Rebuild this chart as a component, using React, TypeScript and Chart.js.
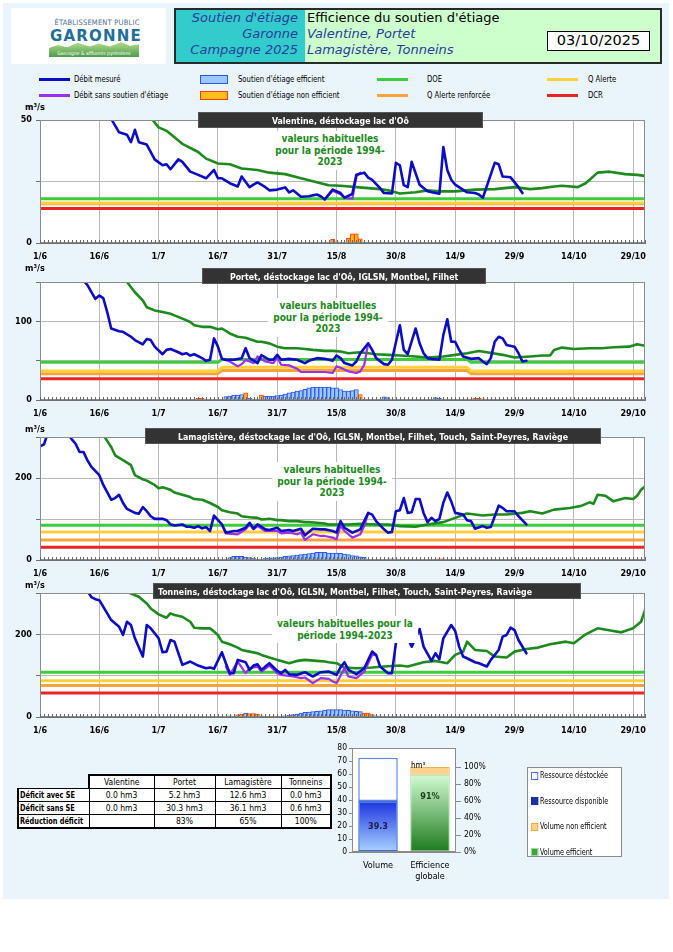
import React, { useEffect, useRef } from "react";
import { Chart, registerables } from "chart.js";

Chart.register(...registerables);

type Pt = [number, number | null];

const NARROW = '"Liberation Sans Narrow","DejaVu Sans Condensed","Arial Narrow",sans-serif';
const WIDE = '"DejaVu Sans",Verdana,sans-serif';

Chart.defaults.font.family = NARROW;
Chart.defaults.color = "#000";

// ---------- x axis (days since 1 June) ----------
const X_MIN = 0;
const X_MAX = 153;
const xTickDays = [0, 15, 30, 45, 60, 75, 90, 105, 120, 135, 150];
const xTickLabels = ["1/6", "16/6", "1/7", "16/7", "31/7", "15/8", "30/8", "14/9", "29/9", "14/10", "29/10"];

// ---------- Valentine ----------
const valentineMeasured: Pt[] = [[0,78],[8,65],[14,56],[18,50.5],[20,45],[22,44],[23,41],[24,46],[25,41],[27,40],[29,34],[31,31.6],[32,32],[33,30],[35,34],[36,33],[38,29],[40,27.7],[42,26.3],[44,29.7],[45,26.3],[46,26.3],[48,24.3],[50,23],[51,27],[53,22.7],[54,23.7],[55,24.6],[57,22.7],[58,21.4],[60,21.7],[62,22.6],[63,20.6],[64,21.4],[66,18.8],[68,19],[70,19.7],[71,19],[72,17.7],[74,21.7],[76,20.3],[77,18.4],[79,20],[80,27.7],[82,28.6],[83,26.6],[84,25.7],[86,22.3],[87,20.3],[89,20.1],[90,32.6],[91,31.6],[92,23.5],[93,22.7],[94,33],[95,28.3],[96,23.7],[98,21],[100,20.3],[101,20],[102,39],[103,29.7],[104,25.7],[105,23.7],[108,20.6],[110,20.3],[111,19.7],[112,18.4],[115,32.6],[116,32],[117,27],[119,26.7],[121,22.7],[122,20.3]];
const valentineNoSupport: Pt[] = [[72,17.7],[74,21.2],[76,19.8],[77,18.4],[79,18],[80,27],[81,28.6]];
const valentineUsual: Pt[] = [[0,90],[12,70],[22,57],[28,51],[30,47],[32,45.6],[34,43],[36,40.3],[40,37],[42,34.3],[45,32.3],[48,32],[51,30.3],[55,29.7],[58,28.6],[62,28],[66,26.3],[71,24.3],[73,23.5],[76,23.3],[80,22.7],[83,22.3],[86,21.9],[88,21.4],[91,20.1],[95,20.6],[98,21.4],[101,21],[105,21],[110,21.7],[115,21.9],[120,22.7],[124,21.9],[127,22.3],[130,23],[132,23.3],[136,22.7],[138,24.3],[141,28.6],[144,29],[148,28],[151,27.7],[153,27.3]];
const valentineDOE: Pt[] = [[0,18],[153,18]];
const valentineQA: Pt[] = [[0,16.3],[153,16.3]];
const valentineQAR: Pt[] = [[0,16],[153,16]];
const valentineDCR: Pt[] = [[0,14],[153,14]];
const valentineEff: Pt[] = [];
const valentineNonEff: Pt[] = [[74,1.5],[75,0.5],[78,2],[79,3.7],[80,3.7],[81,1.7]];

// ---------- Portet ----------
const portetMeasured: Pt[] = [[0,230],[6,190],[11,152],[12,146],[14,128.6],[15,132.7],[16,129.4],[17,111.8],[18,90.9],[20,87.5],[21,86.7],[23,80.4],[24,76.2],[26,70.8],[27,77.5],[28,76.2],[29,67.8],[31,58.2],[32,63.7],[33,64.9],[35,60.7],[36,58.2],[37,59.5],[38,56.5],[39,58.2],[41,53.2],[42,49.8],[43,51.1],[44,78.3],[45,67.8],[46,52.3],[47,51.1],[49,51.1],[51,53.2],[52,65.7],[53,53.2],[55,46.9],[56,57],[58,51.1],[59,51.1],[60,57.4],[61,51.1],[63,52.3],[65,51.1],[67,46.9],[68,49.8],[70,53.2],[72,52.3],[74,49.8],[75,56.5],[76,53.2],[77,46.9],[79,44],[80,49],[81,59.5],[83,72],[84,63.7],[85,53.2],[87,45.6],[88,44.8],[89,51.1],[91,95],[92,63.7],[93,58.2],[95,90.9],[96,72],[97,59.5],[98,53.2],[99,52.3],[101,51.1],[102,82.5],[103,102.6],[104,74.1],[105,74.1],[106,63.7],[107,55.3],[109,52.3],[111,53.2],[112,49],[113,45.6],[114,53.2],[115,74.1],[116,80.4],[117,78.3],[118,69.9],[120,67.8],[121,59.5],[122,49],[123,49.8]];
const portetNoSupport: Pt[] = [[46,52.3],[48,49],[50,42.7],[51,45.6],[52,51],[54,46.9],[55,55.3],[57,49],[59,46.9],[60,54],[61,44.8],[63,44],[65,39.8],[66,35.6],[69,35.6],[72,35.6],[74,34.3],[75,42.7],[76,41],[78,36.4],[80,34.3],[81,36.4],[82,44.8],[83,72]];
const portetUsual: Pt[] = [[0,260],[10,200],[18,165],[22,150],[24,137],[26,126.5],[27,118],[29,113.9],[31,111.8],[33,109.7],[34,107.6],[36,103.4],[38,99.2],[39,95],[41,93],[43,93],[45,90],[46,90.9],[48,84.6],[50,80.4],[52,79.1],[55,74.1],[56,74.1],[58,72],[60,67.8],[62,65.7],[65,65.7],[67,64.9],[69,63.7],[72,62.4],[74,62.4],[76,61.6],[78,59.5],[81,60.7],[85,58.2],[88,57.4],[91,56.5],[95,55.3],[98,54],[102,55.3],[105,57.4],[108,59.5],[111,62.4],[113,60.7],[117,57.4],[120,54],[124,55.3],[127,56.5],[129,56.5],[130,63.7],[132,66.6],[135,64.9],[139,65.7],[142,65.7],[145,67],[149,67.8],[151,70.8],[153,69]];
const portetDOE: Pt[] = [[0,48],[45,48],[46,51.5],[108,51.5],[109,48],[153,48]];
const portetQA: Pt[] = [[0,37],[45,37],[46,41.5],[108,41.5],[109,37],[153,37]];
const portetQAR: Pt[] = [[0,33.5],[45,33.5],[46,37.5],[108,37.5],[109,33.5],[153,33.5]];
const portetDCR: Pt[] = [[0,27],[153,27]];
const portetEff: Pt[] = [[47,4.2],[48,5],[49,6.3],[50,6.3],[51,7],[53,2],[57,5],[58,5],[59,5],[60,5.5],[61,6.3],[62,7.5],[63,9.2],[64,10],[65,11.3],[66,12],[67,13.5],[68,15.5],[69,16.3],[70,16.3],[71,16.3],[72,16.3],[73,16.3],[74,15.5],[75,15.5],[76,13.4],[77,11.3],[78,11.3],[79,12],[80,13.4],[87,4],[88,3],[100,3],[101,2]];
const portetNonEff: Pt[] = [[40,2],[41,2],[52,9.2],[56,6.3],[81,7],[110,2],[111,2],[112,1.5]];

// ---------- Lamagistère ----------
const lamaMeasured: Pt[] = [[0,277],[1,282],[2,310],[4,330],[6,320],[8,295],[9,283.5],[10,263.5],[11,263.5],[12,243],[13,227],[15,207],[16,183],[18,147],[19,151],[20,159],[21,139],[22,124.5],[24,114.9],[25,113],[26,129],[27,119],[28,106.8],[29,100.4],[31,100.4],[32,97.2],[33,86.7],[34,84.3],[36,86.7],[37,81.1],[38,81],[39,78.7],[40,82.7],[41,77.1],[42,80.3],[43,70.7],[44,108.4],[46,86.7],[47,66.7],[49,70.7],[50,70.7],[52,78.7],[53,90.8],[54,76.3],[55,86.7],[57,74.7],[58,73.1],[60,78.7],[61,70.7],[63,73.1],[64,70.7],[66,76.3],[67,60.2],[69,76.3],[71,74.7],[72,74.7],[74,70.7],[75,66.7],[76,95],[77,78.7],[79,66.7],[81,74.7],[82,94.8],[83,114.9],[84,110.8],[85,94.8],[87,74.7],[88,66.7],[89,68.3],[90,118.9],[91,121.3],[92,151],[93,114.9],[94,116.5],[95,148.6],[96,148.6],[97,114.9],[98,92.4],[99,102.8],[100,94.8],[101,100],[102,140],[103,164.7],[104,143],[105,114.9],[107,110.8],[108,97.2],[109,94.8],[110,76.3],[112,82.7],[113,78.7],[114,80.3],[116,132.5],[117,126.9],[118,118.9],[120,118.9],[121,106.8],[123,86.7]];
const lamaNoSupport: Pt[] = [[46,86.7],[47,65],[50,62.7],[52,74.7],[53,86.7],[54,74.7],[55,82.7],[57,70.7],[59,70.7],[60,70.7],[61,65],[63,66.7],[65,62.7],[66,66.7],[67,49],[69,62.7],[71,58.6],[72,58.6],[74,54.6],[75,50.6],[76,84],[77,70.7],[79,54.6],[81,62.7],[82,82.7],[83,114.9]];
const lamaUsual: Pt[] = [[0,400],[10,340],[16,305],[18,275.5],[19,255.4],[21,243.4],[23,231.3],[24,207.2],[26,196.8],[27,193.6],[29,183.1],[30,175.1],[31,177.5],[33,171.1],[34,164.7],[36,159],[38,153.4],[39,148.6],[41,147],[43,139],[45,129.3],[46,121.3],[48,116.5],[50,113.3],[51,106.8],[53,104.4],[55,102.8],[56,98.8],[58,100.4],[60,97.2],[61,97.2],[63,94.8],[65,94.8],[67,92.4],[68,92.4],[70,90.8],[72,89.2],[73,86.7],[75,86.7],[78,86.7],[81,88.4],[85,86.7],[88,86.7],[91,82.7],[95,81.1],[98,86.7],[102,92.4],[105,102.8],[108,113.3],[112,108.4],[115,110.8],[118,110.8],[122,114.9],[124,118.9],[127,113.3],[130,122.9],[134,126.9],[137,132.5],[139,140.6],[140,137.3],[141,159],[143,156.6],[145,143],[148,151],[150,148.6],[151,156.6],[152,171.1],[153,179]];
const lamaDOE: Pt[] = [[0,85],[153,85]];
const lamaQA: Pt[] = [[0,68],[153,68]];
const lamaQAR: Pt[] = [[0,49],[153,49]];
const lamaDCR: Pt[] = [[0,31],[153,31]];
const lamaEff: Pt[] = [[41,2.4],[42,2.4],[48,6],[49,8.8],[50,8.8],[51,8.8],[52,7],[53,6],[54,4],[57,4.8],[58,5],[59,5.5],[60,6],[61,7],[62,8.8],[63,10],[64,11],[65,12],[66,13],[67,14.5],[68,15.5],[69,17],[70,18.5],[71,18.5],[72,18.5],[73,17],[74,17],[75,17],[76,16],[77,14.5],[78,13],[79,11],[80,10.4],[81,8],[82,6.4],[88,2.4],[89,3],[90,2]];
const lamaNonEff: Pt[] = [[53,2],[76,3],[83,2],[84,1.5],[85,1.5],[86,1.5],[87,1.5],[101,3],[102,3],[111,2],[112,2]];

// ---------- Tonneins ----------
const tonMeasured: Pt[] = [[0,420],[6,360],[12,305],[13,290],[14,285],[15,282.7],[17,250.6],[18,234.5],[20,218.5],[21,198.4],[22,230.5],[23,222.5],[24,190.4],[26,146.2],[27,222.5],[28,214.5],[30,190.4],[31,156.6],[32,158.2],[33,186.3],[34,182.3],[36,126.1],[38,134.1],[40,124.5],[42,118.1],[43,119.7],[44,116.5],[46,156.6],[47,130.1],[48,106],[49,106],[50,138.2],[52,132.5],[53,114],[54,124.5],[55,127.7],[56,114],[58,130.1],[60,111.6],[61,106],[62,114],[63,103.6],[65,102],[67,108.4],[69,98],[71,108.4],[73,110],[75,102],[76,120],[77,132.5],[78,114],[80,103.6],[82,118.1],[84,158.2],[85,150.2],[86,122.1],[88,106],[89,106],[90,178.3],[91,null],[93,190.4],[94,170.3],[96,212.9],[97,170.3],[99,135.7],[100,154.2],[101,139.8],[102,190.4],[104,222.5],[105,208],[106,170.3],[107,146.2],[108,142.2],[110,132.5],[111,130.1],[113,122.1],[114,138.2],[116,162.2],[117,194.4],[118,198.4],[119,216.1],[120,210.4],[121,186.3],[123,154.2]];
const tonNoSupport: Pt[] = [[47,122],[48,102],[50,134],[52,106],[53,118],[55,122],[56,110],[58,124.5],[60,106],[61,102],[64,98],[66,94],[67,95.6],[69,81.9],[71,94],[73,92.4],[74,86],[75,82],[76,100],[77,118],[78,98],[80,94],[82,110],[84,150],[85,150.2]];
const tonUsual: Pt[] = [[0,420],[12,350],[20,315],[23,298.8],[25,290.8],[27,274.7],[28,262.7],[30,248.2],[32,240.2],[33,250.6],[34,246.6],[36,242.6],[38,230.5],[39,216.1],[41,214.5],[43,214.5],[45,198.4],[46,182.3],[48,175.9],[50,167.9],[51,162.2],[53,158.2],[55,154.2],[56,150.2],[58,143.8],[60,138.2],[61,135.7],[63,130.1],[65,135.7],[67,138.2],[70,135.7],[72,134.1],[73,132.5],[75,130.1],[77,119.7],[80,118.1],[84,119.7],[87,122.1],[91,124.5],[93,122.1],[97,132.5],[100,135.7],[103,130.1],[105,150.2],[107,158.2],[108,182.3],[110,162.2],[113,159.8],[115,146.2],[118,143.8],[120,158.2],[123,164.7],[126,167.9],[129,175.9],[133,182.3],[135,178.3],[138,200],[141,214.5],[145,208],[147,204.8],[150,214.5],[152,230.5],[153,258.6]];
const tonDOE: Pt[] = [[0,108],[153,108]];
const tonQA: Pt[] = [[0,88],[153,88]];
const tonQAR: Pt[] = [[0,76],[153,76]];
const tonDCR: Pt[] = [[0,58],[153,58]];
const tonEff: Pt[] = [[48,3],[52,9.6],[62,3],[63,4],[64,5.6],[65,7],[66,9.6],[67,11],[68,12],[69,13],[70,13.7],[71,15],[72,16.9],[73,17.7],[74,18],[75,18],[76,17.7],[77,16.9],[78,16],[79,15],[80,14],[81,13],[85,3],[86,2]];
const tonNonEff: Pt[] = [[43,2],[44,2],[50,5],[51,7],[53,8],[54,8],[55,7],[56,3],[59,2],[60,2],[61,2],[82,9.6],[83,9.6],[84,6],[87,1.5],[90,2],[91,2],[101,2],[102,2],[112,2],[113,2],[114,2]];

// ---------- summary ----------
const summaryCategories = ["Volume", ["Efficience", "globale"]];
const summaryAvailable = 39.3;
const summaryReleasedRest = 33.2;
const summaryEfficientPct = 91;
const summaryNonEfficientPct = 9;

const tableCols = ["Valentine", "Portet", "Lamagistère", "Tonneins"];
const tableRowLabels = ["Déficit avec SE", "Déficit sans SE", "Réduction déficit"];
const deficitWith = ["0.0 hm3", "5.2 hm3", "12.6 hm3", "0.0 hm3"];
const deficitWithout = ["0.0 hm3", "30.3 hm3", "36.1 hm3", "0.6 hm3"];
const deficitReduction = ["", "83%", "65%", "100%"];

const C = {
  measured: "#0c0cc4",
  sans: "#9a30ee",
  habit: "#1d8a1d",
  doe: "#3ccc3c",
  qa: "#ffcf3a",
  qar: "#f7a33c",
  dcr: "#ea2424",
  effFill: "#9cc8ff",
  effBorder: "#2a55e8",
  nonFill: "#ffbf1a",
  nonBorder: "#ff3a10",
  grid: "#b9b9b9",
};

const toXY = (pts: Pt[]) => pts.map(([x, y]) => ({ x, y }));

const plotAreaPlugin = {
  id: "plotArea",
  beforeDraw(chart: any) {
    const { ctx, chartArea: a } = chart;
    ctx.save();
    ctx.fillStyle = "#fff";
    ctx.fillRect(a.left, a.top, a.width, a.height);
    ctx.restore();
  },
  afterDraw(chart: any) {
    const { ctx, chartArea: a } = chart;
    ctx.save();
    ctx.strokeStyle = "#8c8c8c";
    ctx.lineWidth = 1;
    ctx.strokeRect(a.left + 0.5, a.top + 0.5, a.width - 1, a.height - 1);
    ctx.restore();
  },
};

const dayTicksPlugin = {
  id: "dayTicks",
  afterDraw(chart: any) {
    const xs = chart.scales.x;
    const a = chart.chartArea;
    const ctx = chart.ctx;
    ctx.save();
    ctx.strokeStyle = "#6a6a6a";
    ctx.lineWidth = 1;
    ctx.beginPath();
    for (let d = X_MIN; d <= X_MAX; d++) {
      const px = Math.round(xs.getPixelForValue(d)) + 0.5;
      ctx.moveTo(px, a.bottom);
      ctx.lineTo(px, a.bottom - 3);
    }
    ctx.stroke();
    ctx.restore();
  },
};

type PanelCfg = {
  plotTop: number;
  plotBottom: number;
  yMax: number;
  gridStep: number;
  labelStep: number;
  measured: Pt[];
  sans: Pt[];
  habit: Pt[];
  doe: Pt[];
  qa: Pt[];
  qar: Pt[];
  dcr: Pt[];
  eff: Pt[];
  nonEff: Pt[];
  title: string;
  titleLeft: number;
  titleTop: number;
  titleWidth: number;
  titleAlign: "center" | "left";
  unitTop: number;
  habLines: string[];
  habCx: number;
  habTop: number;
};

const PAD_TOP = 8;
const X_AX_H = 24;
const Y_AX_W = 40;
const PLOT_RIGHT = 645;

function Panel({ cfg }: { cfg: PanelCfg }) {
  const ref = useRef<HTMLCanvasElement>(null);
  const h = cfg.plotBottom - cfg.plotTop + PAD_TOP + X_AX_H;
  useEffect(() => {
    const line = (data: Pt[], color: string, width: number) => ({
      type: "line",
      data: toXY(data),
      borderColor: color,
      backgroundColor: color,
      borderWidth: width,
      borderJoinStyle: "round",
      borderCapStyle: "round",
      pointRadius: 0,
      tension: 0,
      fill: false,
      spanGaps: false,
    });
    const bar = (data: Pt[], bg: string, border: string) => ({
      type: "bar",
      data: toXY(data),
      backgroundColor: bg,
      borderColor: border,
      borderWidth: 1,
      barThickness: 4,
      grouped: false,
    });
    const chart = new Chart(ref.current as HTMLCanvasElement, {
      type: "line",
      data: {
        datasets: [
          line(cfg.measured, C.measured, 2.6),
          line(cfg.sans, C.sans, 2.2),
          line(cfg.habit, C.habit, 2.6),
          line(cfg.dcr, C.dcr, 3),
          line(cfg.qa, C.qa, 3),
          line(cfg.qar, C.qar, 3),
          line(cfg.doe, C.doe, 3),
          bar(cfg.nonEff, C.nonFill, C.nonBorder),
          bar(cfg.eff, C.effFill, C.effBorder),
        ] as any,
      },
      options: {
        responsive: true,
        maintainAspectRatio: false,
        animation: false,
        layout: { padding: { left: 0, right: 673 - PLOT_RIGHT, top: PAD_TOP, bottom: 0 } },
        plugins: { legend: { display: false }, tooltip: { enabled: false } },
        scales: {
          x: {
            type: "linear",
            min: X_MIN,
            max: X_MAX,
            offset: false,
            ticks: {
              stepSize: 1,
              autoSkip: false,
              maxRotation: 0,
              padding: 8,
              color: "#000",
              font: { family: NARROW, size: 9, weight: "bold" },
              callback: (v: any) => {
                const i = xTickDays.indexOf(Number(v));
                return i >= 0 ? xTickLabels[i] : "";
              },
            },
            grid: {
              drawTicks: false,
              lineWidth: 1,
              offset: false,
              color: (c: any) => (c.tick && xTickDays.includes(c.tick.value) ? C.grid : "rgba(0,0,0,0)"),
            },
            border: { color: "#707070", width: 1 },
            afterFit: (s: any) => {
              s.height = X_AX_H;
              s.paddingLeft = 0;
              s.paddingRight = 0;
            },
          },
          y: {
            min: 0,
            max: cfg.yMax,
            ticks: {
              stepSize: cfg.gridStep,
              padding: 4,
              color: "#000",
              font: { family: NARROW, size: 9, weight: "bold" },
              callback: (v: any) => (Math.abs(Number(v) % cfg.labelStep) < 1e-6 ? String(v) : ""),
            },
            grid: { color: C.grid, tickLength: 4, tickColor: "#707070" },
            border: { color: "#707070", width: 1 },
            afterFit: (s: any) => {
              s.width = Y_AX_W;
              s.paddingTop = 0;
              s.paddingBottom = 0;
            },
          },
        },
      } as any,
      plugins: [plotAreaPlugin, dayTicksPlugin],
    });
    return () => chart.destroy();
  }, [cfg]);

  return (
    <>
      <div style={{ position: "absolute", left: 0, top: cfg.plotTop - PAD_TOP, width: 673, height: h }}>
        <canvas ref={ref} />
      </div>
      <div
        style={{
          position: "absolute",
          left: 25,
          top: cfg.unitTop,
          fontFamily: NARROW,
          fontWeight: "bold",
          fontSize: 9,
          color: "#000",
          zIndex: 2,
        }}
      >
        m³/s
      </div>
      <div
        style={{
          position: "absolute",
          left: cfg.titleLeft,
          top: cfg.titleTop,
          width: cfg.titleWidth,
          height: 16,
          lineHeight: "16px",
          background: "#333333",
          border: "1px solid #555",
          boxSizing: "border-box",
          color: "#fff",
          fontFamily: NARROW,
          fontWeight: "bold",
          fontSize: 9.5,
          textAlign: cfg.titleAlign,
          paddingLeft: cfg.titleAlign === "left" ? 4 : 0,
          whiteSpace: "nowrap",
          zIndex: 3,
        }}
      >
        <span
          style={{
            display: "inline-block",
            transform: "scaleX(0.92)",
            transformOrigin: cfg.titleAlign === "left" ? "left center" : "center center",
          }}
        >
          {cfg.title}
        </span>
      </div>
      <div
        style={{
          position: "absolute",
          left: cfg.habCx,
          top: cfg.habTop,
          transform: "translateX(-50%)",
          background: "#fff",
          padding: "2px 5px",
          color: C.habit,
          fontFamily: NARROW,
          fontWeight: "bold",
          fontSize: 10,
          lineHeight: "11.5px",
          textAlign: "center",
          whiteSpace: "nowrap",
          zIndex: 3,
        }}
      >
        {cfg.habLines.map((l, i) => (
          <div key={i}>{l}</div>
        ))}
      </div>
    </>
  );
}

const panels: PanelCfg[] = [
  {
    plotTop: 120, plotBottom: 243, yMax: 50, gridStep: 25, labelStep: 50,
    measured: valentineMeasured, sans: valentineNoSupport, habit: valentineUsual,
    doe: valentineDOE, qa: valentineQA, qar: valentineQAR, dcr: valentineDCR,
    eff: valentineEff, nonEff: valentineNonEff,
    title: "Valentine, déstockage lac d'Oô", titleLeft: 198, titleTop: 112, titleWidth: 285, titleAlign: "center",
    unitTop: 102, habLines: ["valeurs habituelles", "pour la période 1994-", "2023"], habCx: 330, habTop: 131,
  },
  {
    plotTop: 282, plotBottom: 400, yMax: 150, gridStep: 50, labelStep: 100,
    measured: portetMeasured, sans: portetNoSupport, habit: portetUsual,
    doe: portetDOE, qa: portetQA, qar: portetQAR, dcr: portetDCR,
    eff: portetEff, nonEff: portetNonEff,
    title: "Portet, déstockage lac d'Oô, IGLSN, Montbel, Filhet", titleLeft: 202, titleTop: 268, titleWidth: 284, titleAlign: "center",
    unitTop: 263, habLines: ["valeurs habituelles", "pour la période 1994-", "2023"], habCx: 328, habTop: 298,
  },
  {
    plotTop: 437, plotBottom: 560, yMax: 300, gridStep: 100, labelStep: 200,
    measured: lamaMeasured, sans: lamaNoSupport, habit: lamaUsual,
    doe: lamaDOE, qa: lamaQA, qar: lamaQAR, dcr: lamaDCR,
    eff: lamaEff, nonEff: lamaNonEff,
    title: "Lamagistère, déstockage lac d'Oô, IGLSN, Montbel, Filhet, Touch, Saint-Peyres, Raviège", titleLeft: 145, titleTop: 428, titleWidth: 456, titleAlign: "center",
    unitTop: 424, habLines: ["valeurs habituelles", "pour la période 1994-", "2023"], habCx: 332, habTop: 462,
  },
  {
    plotTop: 593, plotBottom: 717, yMax: 300, gridStep: 100, labelStep: 200,
    measured: tonMeasured, sans: tonNoSupport, habit: tonUsual,
    doe: tonDOE, qa: tonQA, qar: tonQAR, dcr: tonDCR,
    eff: tonEff, nonEff: tonNonEff,
    title: "Tonneins, déstockage lac d'Oô, IGLSN, Montbel, Filhet, Touch, Saint-Peyres, Raviège", titleLeft: 153, titleTop: 583, titleWidth: 428, titleAlign: "left",
    unitTop: 580, habLines: ["valeurs habituelles pour la", "période 1994-2023"], habCx: 345, habTop: 616,
  },
];

const summaryLabelPlugin = {
  id: "summaryLabels",
  afterDatasetsDraw(chart: any) {
    const ctx = chart.ctx;
    ctx.save();
    ctx.font = `bold 9px ${NARROW}`;
    ctx.textAlign = "center";
    ctx.textBaseline = "middle";
    ctx.fillStyle = "#1b1b50";
    const e0 = chart.getDatasetMeta(0).data[0];
    if (e0) ctx.fillText(summaryAvailable.toFixed(1), e0.x, (e0.y + e0.base) / 2);
    const e2 = chart.getDatasetMeta(2).data[1];
    ctx.fillStyle = "#1b3b1b";
    if (e2) ctx.fillText(summaryEfficientPct + "%", e2.x, (e2.y + e2.base) / 2 - 16);
    ctx.restore();
  },
};

function Summary() {
  const ref = useRef<HTMLCanvasElement>(null);
  useEffect(() => {
    const blueGrad = (c: any) => {
      const ch = c.chart;
      if (!ch.chartArea) return "#3355ee";
      const ys = ch.scales.y;
      const g = ch.ctx.createLinearGradient(0, ys.getPixelForValue(0), 0, ys.getPixelForValue(summaryAvailable));
      g.addColorStop(0, "#a9d3ff");
      g.addColorStop(1, "#1c33e0");
      return g;
    };
    const greenGrad = (c: any) => {
      const ch = c.chart;
      if (!ch.chartArea) return "#33aa33";
      const ys = ch.scales.y2;
      const g = ch.ctx.createLinearGradient(0, ys.getPixelForValue(0), 0, ys.getPixelForValue(summaryEfficientPct));
      g.addColorStop(0, "#1d7a1d");
      g.addColorStop(1, "#d2fbd2");
      return g;
    };
    const chart = new Chart(ref.current as HTMLCanvasElement, {
      type: "bar",
      data: {
        labels: summaryCategories as any,
        datasets: [
          { label: "Ressource disponible", data: [summaryAvailable, null], yAxisID: "y", stack: "a", backgroundColor: blueGrad, borderColor: "#3b6fe0", borderWidth: 1.5, borderSkipped: false },
          { label: "Ressource déstockée", data: [summaryReleasedRest, null], yAxisID: "y", stack: "a", backgroundColor: "#ffffff", borderColor: "#5a86e0", borderWidth: 1.5, borderSkipped: false },
          { label: "Volume efficient", data: [null, summaryEfficientPct], yAxisID: "y2", stack: "a", backgroundColor: greenGrad, borderColor: "#9fdc9f", borderWidth: 1, borderSkipped: false },
          { label: "Volume non efficient", data: [null, summaryNonEfficientPct], yAxisID: "y2", stack: "a", backgroundColor: "#fcd28a", borderColor: "#f2b155", borderWidth: 1, borderSkipped: false },
        ] as any,
      },
      options: {
        responsive: true,
        maintainAspectRatio: false,
        animation: false,
        layout: { padding: { top: 8, right: 8, left: 0, bottom: 0 } },
        datasets: { bar: { categoryPercentage: 0.8, barPercentage: 0.95 } },
        plugins: { legend: { display: false }, tooltip: { enabled: false } },
        scales: {
          x: {
            stacked: true,
            grid: { display: false },
            border: { color: "#888" },
            ticks: { color: "#000", padding: 0, maxRotation: 0, font: { family: NARROW, size: 9 } },
            afterFit: (s: any) => { s.height = 33; s.paddingLeft = 0; s.paddingRight = 0; },
          },
          y: {
            stacked: true,
            min: 0,
            max: 80,
            ticks: { stepSize: 10, autoSkip: false, color: "#000", padding: 2, font: { family: NARROW, size: 8.5 } },
            grid: { drawOnChartArea: false, tickLength: 3, color: "#888" },
            border: { color: "#888" },
            afterFit: (s: any) => { s.width = 26; s.paddingTop = 0; s.paddingBottom = 0; },
          },
          y2: {
            position: "right",
            stacked: true,
            min: 0,
            max: 122.4,
            ticks: {
              stepSize: 20,
              autoSkip: false,
              color: "#000",
              padding: 3,
              font: { family: NARROW, size: 8.5 },
              callback: (v: any) => (Number(v) <= 100 ? v + "%" : ""),
            },
            grid: {
              drawOnChartArea: false,
              tickLength: 5,
              color: (c: any) => (c.tick && c.tick.value <= 100 ? "#888" : "rgba(0,0,0,0)"),
            },
            border: { display: false },
            afterFit: (s: any) => { s.width = 32; s.paddingTop = 0; s.paddingBottom = 0; },
          },
        },
      } as any,
      plugins: [plotAreaPlugin, summaryLabelPlugin],
    });
    return () => chart.destroy();
  }, []);
  return (
    <div style={{ position: "absolute", left: 326, top: 740, width: 170, height: 145 }}>
      <canvas ref={ref} />
    </div>
  );
}

const SQUEEZE: React.CSSProperties = { transform: "scaleX(0.9)", transformOrigin: "left center" };

const legendLine = (left: number, top: number, color: string) => (
  <div style={{ position: "absolute", left, top: top - 1.5, width: 31, height: 3, background: color }} />
);
const legendRect = (left: number, top: number, fill: string, border: string) => (
  <div style={{ position: "absolute", left, top: top - 4.5, width: 28, height: 9, background: fill, border: `1px solid ${border}`, boxSizing: "border-box" }} />
);
const legendText = (left: number, top: number, text: string) => (
  <div style={{ position: "absolute", left, top: top - 6, fontSize: 8.5, lineHeight: "12px", color: "#000", whiteSpace: "nowrap", ...SQUEEZE }}>{text}</div>
);

function Legend() {
  return (
    <>
      {legendLine(39, 79, C.measured)}
      {legendText(74, 79, "Débit mesuré")}
      {legendLine(39, 95, C.sans)}
      {legendText(74, 95, "Débit sans soutien d'étiage")}
      {legendRect(200, 79, C.effFill, C.effBorder)}
      {legendText(238, 79, "Soutien d'étiage efficient")}
      {legendRect(200, 95, C.nonFill, C.nonBorder)}
      {legendText(238, 95, "Soutien d'étiage non efficient")}
      {legendLine(377, 79, C.doe)}
      {legendText(427, 79, "DOE")}
      {legendLine(377, 95, C.qar)}
      {legendText(427, 95, "Q Alerte renforcée")}
      {legendLine(547, 79, C.qa)}
      {legendText(588, 79, "Q Alerte")}
      {legendLine(547, 95, C.dcr)}
      {legendText(588, 95, "DCR")}
    </>
  );
}

function Header() {
  const blue = "#283c9c";
  return (
    <>
      <div style={{ position: "absolute", left: 11, top: 8, width: 155, height: 56, background: "#fff" }}>
        <div style={{ position: "absolute", left: 0, top: 10, width: 172, textAlign: "center", fontSize: 7.5, color: "#4d6f8f", fontFamily: NARROW, letterSpacing: 0.2 }}>
          ÉTABLISSEMENT PUBLIC
        </div>
        <div style={{ position: "absolute", left: 0, top: 19, width: 170, textAlign: "center", fontSize: 15, fontWeight: "bold", color: "#236e96", fontFamily: WIDE, letterSpacing: 1.2 }}>
          GARONNE
        </div>
        <div
          style={{
            position: "absolute",
            left: 38,
            top: 34,
            width: 90,
            height: 15,
            background: "linear-gradient(#b5de8c, #4d9a4a)",
            clipPath: "polygon(0 40%, 10% 20%, 20% 35%, 32% 5%, 45% 30%, 55% 10%, 68% 30%, 80% 0, 90% 25%, 100% 15%, 100% 100%, 0 100%)",
          }}
        >
          <div style={{ position: "absolute", left: 0, top: 8, width: 90, textAlign: "center", fontSize: 5, lineHeight: "6px", color: "#fff", fontFamily: NARROW, whiteSpace: "nowrap" }}>
            Gascogne &amp; affluents pyrénéens
          </div>
        </div>
      </div>
      <div style={{ position: "absolute", left: 174, top: 8, width: 488, height: 56, border: "2px solid #2a2a2a", boxSizing: "border-box", background: "#ccffcc" }}>
        <div style={{ position: "absolute", left: 0, top: 0, width: 129, height: 52, background: "#33cccc" }} />
        <div style={{ position: "absolute", left: 0, top: 0, width: 122, textAlign: "right", fontFamily: WIDE, fontStyle: "italic", fontSize: 13, lineHeight: "16.2px", color: blue, whiteSpace: "nowrap" }}>
          <div>Soutien d'étiage</div>
          <div>Garonne</div>
          <div>Campagne 2025</div>
        </div>
        <div style={{ position: "absolute", left: 131, top: 0, fontFamily: WIDE, fontSize: 13, lineHeight: "16.2px", color: blue, whiteSpace: "nowrap" }}>
          <div style={{ color: "#000" }}>Efficience du soutien d'étiage</div>
          <div style={{ fontStyle: "italic" }}>Valentine, Portet</div>
          <div style={{ fontStyle: "italic" }}>Lamagistère, Tonneins</div>
        </div>
        <div
          style={{
            position: "absolute",
            left: 371,
            top: 21,
            width: 103,
            height: 20,
            border: "1.5px solid #000",
            boxSizing: "border-box",
            background: "#fff",
            fontFamily: WIDE,
            fontSize: 14.5,
            lineHeight: "17px",
            textAlign: "center",
            color: "#000",
          }}
        >
          03/10/2025
        </div>
      </div>
    </>
  );
}

function DeficitTable() {
  const widths = [71, 65, 61, 66, 50];
  const total = widths.reduce((a, b) => a + b, 0);
  const rows = [deficitWith, deficitWithout, deficitReduction];
  const cell = (ci: number, ri: number): React.CSSProperties => ({
    height: 12,
    padding: 0,
    borderTop: ri === 0 ? "2px solid #000" : "1px solid #000",
    borderBottom: ri === 3 ? "2px solid #000" : "1px solid #000",
    borderLeft: ci === 0 || (ri === 0 && ci === 1) ? "2px solid #000" : "1px solid #000",
    borderRight: ci === 4 ? "2px solid #000" : "1px solid #000",
    textAlign: ci === 0 ? "left" : "center",
    paddingLeft: ci === 0 ? 1 : 0,
    fontWeight: ci === 0 ? "bold" : "normal",
    background: "#fff",
    whiteSpace: "nowrap",
    overflow: "hidden",
  });
  return (
    <table
      style={{
        position: "absolute",
        left: 17,
        top: 774,
        width: total,
        borderCollapse: "collapse",
        fontFamily: NARROW,
        fontSize: 8.5,
        lineHeight: "11px",
        color: "#000",
        tableLayout: "fixed",
      }}
    >
      <colgroup>
        {widths.map((w, i) => (
          <col key={i} style={{ width: w }} />
        ))}
      </colgroup>
      <tbody>
        <tr>
          <td style={{ border: "none", padding: 0 }} />
          {tableCols.map((c, i) => (
            <td key={c} style={cell(i + 1, 0)}>{c}</td>
          ))}
        </tr>
        {rows.map((r, ri) => (
          <tr key={ri}>
            <td style={cell(0, ri + 1)}>
              <span style={{ display: "inline-block", transform: "scaleX(0.86)", transformOrigin: "left center" }}>
                {tableRowLabels[ri]}
              </span>
            </td>
            {r.map((v, ci) => (
              <td key={ci} style={cell(ci + 1, ri + 1)}>{v}</td>
            ))}
          </tr>
        ))}
      </tbody>
    </table>
  );
}

function SummaryLegend() {
  const items = [
    { label: "Ressource déstockée", fill: "#fff", border: "#3b6fe0" },
    { label: "Ressource disponible", fill: "#1c2fa8", border: "#1c2fa8" },
    { label: "Volume non efficient", fill: "#fcd28a", border: "#f2a840" },
    { label: "Volume efficient", fill: "#3aa63a", border: "#9fdc9f" },
  ];
  return (
    <div style={{ position: "absolute", left: 527, top: 767, width: 95, height: 90, background: "#fff", border: "1px solid #8a8a8a", boxSizing: "border-box" }}>
      {items.map((it, i) => (
        <div key={i} style={{ position: "absolute", left: 3, top: 3 + i * 25.5, fontSize: 8, lineHeight: "10px", whiteSpace: "nowrap", fontFamily: NARROW, ...SQUEEZE }}>
          <span style={{ display: "inline-block", width: 6, height: 6, background: it.fill, border: `1px solid ${it.border}`, marginRight: 2, verticalAlign: "middle" }} />
          {it.label}
        </div>
      ))}
    </div>
  );
}

export default function App() {
  return (
    <div style={{ position: "absolute", left: 0, top: 0, width: 673, height: 952, background: "#fff", overflow: "hidden", fontFamily: NARROW }}>
      <div style={{ position: "absolute", left: 3, top: 3, width: 666, height: 896, background: "#eaf4fb" }} />
      <Header />
      <Legend />
      {panels.map((p, i) => (
        <Panel key={i} cfg={p} />
      ))}
      <DeficitTable />
      <Summary />
      <div style={{ position: "absolute", left: 411, top: 761, fontSize: 8, fontFamily: NARROW, color: "#000" }}>hm³</div>
      <SummaryLegend />
    </div>
  );
}
